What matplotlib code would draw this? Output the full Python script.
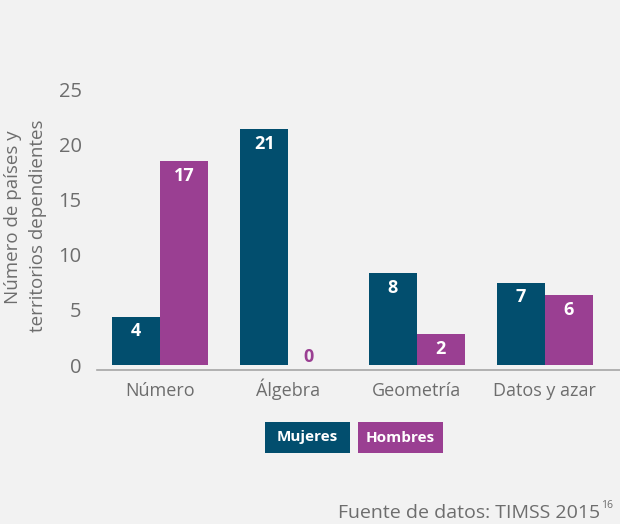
import matplotlib
matplotlib.use("Agg")
import matplotlib.pyplot as plt
from matplotlib.patches import Rectangle
import numpy as np

# ---- data ----
categorias = ["Número", "Álgebra", "Geometría", "Datos y azar"]
mujeres_etiquetas = [4, 21, 8, 7]
hombres_etiquetas = [17, 0, 2, 6]
# bar heights as drawn in the reference image
mujeres_barras = [4.4, 21.4, 8.35, 7.45]
hombres_barras = [18.5, 0, 2.8, 6.35]
yticks = [0, 5, 10, 15, 20, 25]

C_M = "#024e6e"
C_H = "#9a3f92"
BG = "#f2f2f2"
GRAY = "#6d6d6d"

plt.rcParams['font.family'] = ['Open Sans', 'DejaVu Sans']

W, H = 620, 524
fig = plt.figure(figsize=(W / 100, H / 100), dpi=100, facecolor=BG)
ax = fig.add_axes([97 / W, (H - 370) / H, 1 - 97 / W, (370 - 89.3) / H], facecolor=BG)

x = np.arange(len(categorias))
bw = 0.374
ax.bar(x - bw / 2, mujeres_barras, width=bw, color=C_M, linewidth=0)
ax.bar(x + bw / 2, hombres_barras, width=bw, color=C_H, linewidth=0)

for xi, v, h in zip(x, mujeres_etiquetas, mujeres_barras):
    ax.annotate(str(v), (xi - bw / 2, h), xytext=(0, -10.5), textcoords="offset points",
                ha="center", va="center", color="white", fontsize=13, fontweight="bold")
for xi, v, h in zip(x, hombres_etiquetas, hombres_barras):
    if h > 1:
        ax.annotate(str(v), (xi + bw / 2, h), xytext=(0, -10.5), textcoords="offset points",
                    ha="center", va="center", color="white", fontsize=13, fontweight="bold")
    else:
        ax.annotate(str(v), (xi + bw / 2, h), xytext=(-3, 5.5), textcoords="offset points",
                    ha="center", va="center", color=C_H, fontsize=13, fontweight="bold")

ax.set_xlim(-0.491, 3.585)
ax.set_ylim(-0.45, 25)
ax.set_xticks(x)
ax.set_xticklabels(categorias, fontsize=13, color=GRAY)
for lbl in ax.get_xticklabels():
    lbl.set_va("baseline")
ax.set_yticks(yticks)
ax.set_yticklabels([str(t) for t in yticks], fontsize=14.5, color=GRAY)
ax.tick_params(axis="x", length=0, pad=18.5)
ax.tick_params(axis="y", length=0, pad=11)
for s in ["top", "right", "left"]:
    ax.spines[s].set_visible(False)
ax.spines["bottom"].set_color("#a6a6a6")
ax.spines["bottom"].set_linewidth(1.2)

# y label (two lines)
fig.text(13 / W, 1 - 217 / H, "Número de países y", rotation=90, ha="center", va="center",
         fontsize=13.5, color=GRAY)
fig.text(38 / W, 1 - 226 / H, "territorios dependientes", rotation=90, ha="center", va="center",
         fontsize=13.5, color=GRAY)

# legend boxes
for (x0, x1, lab, col) in [(265, 350, "Mujeres", C_M), (358, 443, "Hombres", C_H)]:
    fig.patches.append(Rectangle((x0 / W, 1 - 453 / H), (x1 - x0) / W, 31 / H,
                                 transform=fig.transFigure, facecolor=col, edgecolor="none"))
    fig.text((x0 + x1) / 2 / W, 1 - 437.5 / H, lab, ha="center", va="center",
             color="white", fontsize=11, fontweight="bold")

# source
fig.text(600 / W, 1 - 513 / H, "Fuente de datos: TIMSS 2015", ha="right", va="center",
         fontsize=14, color=GRAY)
fig.text(601 / W, 1 - 506 / H, "16", ha="left", va="center", fontsize=7.5, color=GRAY)

fig.savefig("out.png", dpi=100, facecolor=BG)
